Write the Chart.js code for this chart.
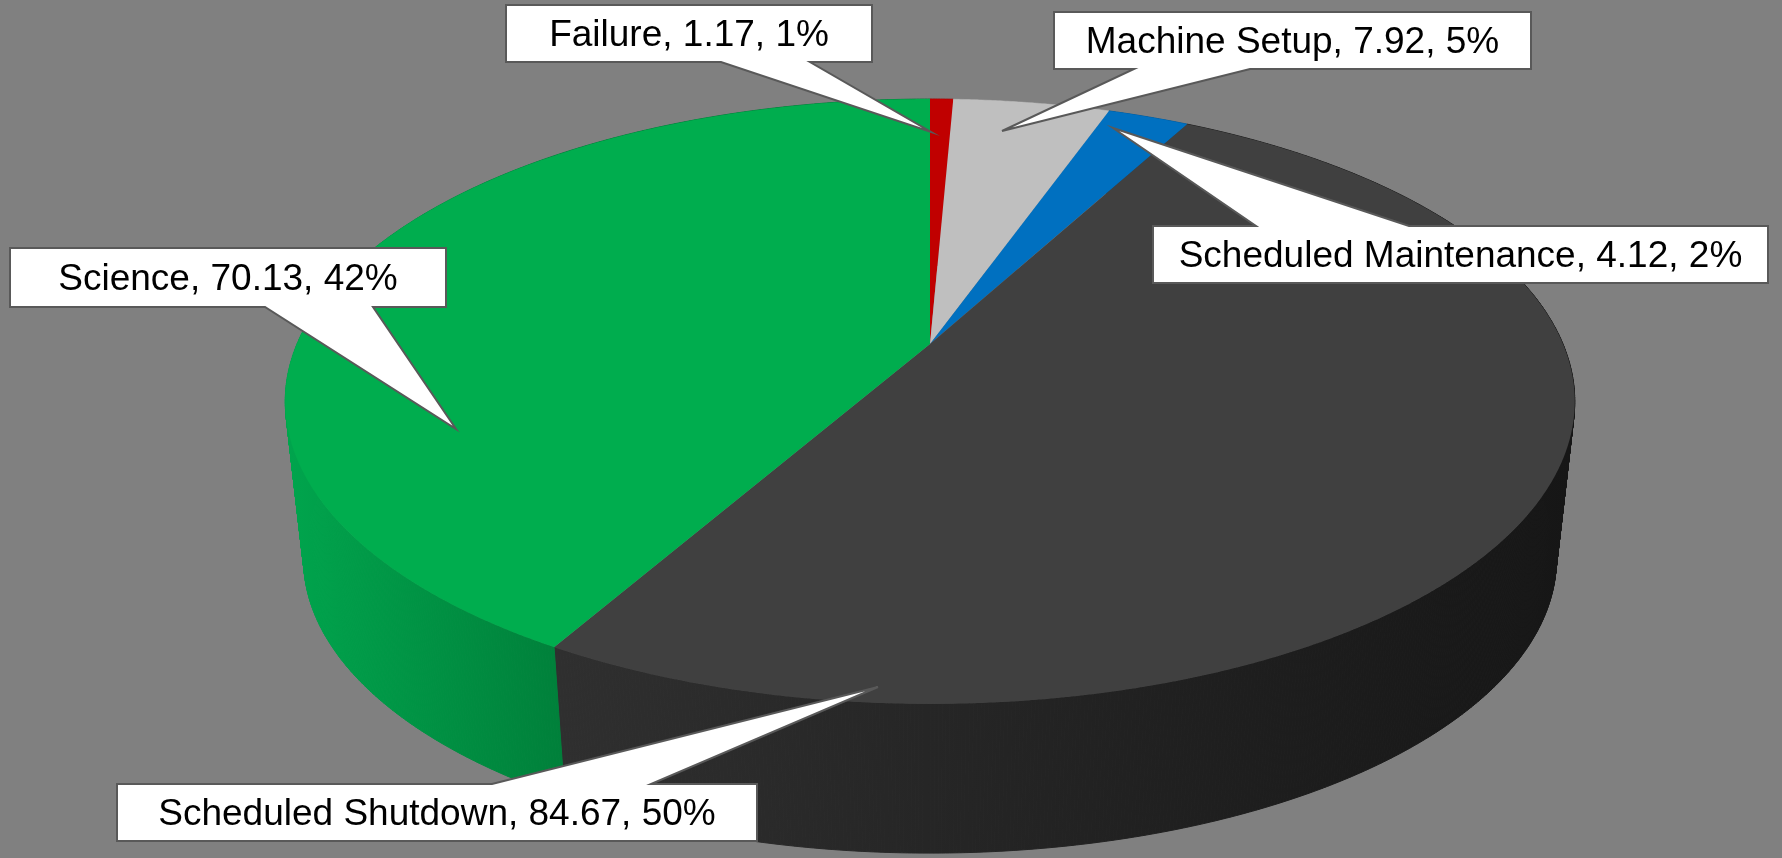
<!DOCTYPE html>
<html>
<head>
<meta charset="utf-8">
<title>Time usage</title>
<style>
    html, body { margin: 0; padding: 0; background: #808080; }
    canvas { display: block; }
</style>
<script src="https://cdn.jsdelivr.net/npm/chart.js@4/dist/chart.umd.js"></script>
</head>
<body>
<canvas id="pie" width="1782" height="858"></canvas>
<script>
// values, clockwise from 12 o'clock
const categories = ['Failure', 'Machine Setup', 'Scheduled Maintenance', 'Scheduled Shutdown', 'Science'];
const hours = [1.17, 7.92, 4.12, 84.67, 70.13];
const percents = ['1%', '5%', '2%', '50%', '42%'];

const topColors = ['#C00000', '#BFBFBF', '#0070C0', '#404040', '#00AD4E'];

// side wall shading, left to right over the visible x range
const wallShades = [
    { from: 900, to: 960, colors: ['#A00000', '#A00000'] },
    { from: 900, to: 1100, colors: ['#9F9F9F', '#9F9F9F'] },
    { from: 1100, to: 1200, colors: ['#005C9E', '#005C9E'] },
    { from: 563, to: 1574, colors: ['#2F2F2F', '#161616'] },
    { from: 284, to: 563, colors: ['#00A54D', '#00803A'] }
];

// callout boxes: [left, top, right, bottom], wedge base x1/x2 and tip
const callouts = [
    { box: [506, 5, 872, 62], edge: 'bottom', base: [721, 810], tip: [931, 132] },
    { box: [1054, 12, 1531, 69], edge: 'bottom', base: [1134, 1250], tip: [1002, 131] },
    { box: [1153, 226, 1768, 283], edge: 'top', base: [1256, 1409], tip: [1113, 128] },
    { box: [117, 784, 757, 841], edge: 'top', base: [492, 651], tip: [878, 687] },
    { box: [10, 248, 446, 307], edge: 'bottom', base: [265, 373], tip: [456, 429] }
];

// perspective of the top disc, the bottom disc is the same one shrunk towards the vanishing point
const view = { cx: 930, cy: 344, rx: 633, ry: 291.5, tilt: 0.19, vanishY: 5940, shrink: 0.0285 };

function projectTop(angle) {
    const u = Math.cos(angle);
    const v = Math.sin(angle);
    const w = 1 - view.tilt * v;
    return [view.cx + view.rx * u / w, view.cy + view.ry * v / w];
}

function projectBottom(angle) {
    const p = projectTop(angle);
    return [p[0] + view.shrink * (view.cx - p[0]), p[1] + view.shrink * (view.vanishY - p[1])];
}

function arcPoints(start, end, project) {
    const steps = Math.max(2, Math.ceil((end - start) / 0.005));
    const points = [];
    for (let i = 0; i <= steps; i++) {
        points.push(project(start + (end - start) * i / steps));
    }
    return points;
}

function fillPoints(ctx, points, fill) {
    ctx.beginPath();
    points.forEach((p, i) => i ? ctx.lineTo(p[0], p[1]) : ctx.moveTo(p[0], p[1]));
    ctx.closePath();
    ctx.fillStyle = fill;
    ctx.fill();
}

// the wall is a strip of quads, a single polygon would miss the tangent parts at the sides
function drawWall(ctx, arc, shade) {
    const upper = arcPoints(arc.startAngle, arc.endAngle, projectTop);
    const lower = arcPoints(arc.startAngle, arc.endAngle, projectBottom);
    const gradient = ctx.createLinearGradient(shade.from, 0, shade.to, 0);
    gradient.addColorStop(0, shade.colors[0]);
    gradient.addColorStop(1, shade.colors[1]);
    ctx.strokeStyle = gradient;
    ctx.lineWidth = 1;
    for (let i = 0; i < upper.length - 1; i++) {
        const quad = [upper[i], upper[i + 1], lower[i + 1], lower[i]];
        fillPoints(ctx, quad, gradient);
        ctx.stroke();
    }
}

function drawCallout(ctx, c, text) {
    const [l, t, r, b] = c.box;
    ctx.beginPath();
    ctx.moveTo(l, t);
    if (c.edge === 'top') {
        ctx.lineTo(c.base[0], t);
        ctx.lineTo(c.tip[0], c.tip[1]);
        ctx.lineTo(c.base[1], t);
    }
    ctx.lineTo(r, t);
    ctx.lineTo(r, b);
    if (c.edge === 'bottom') {
        ctx.lineTo(c.base[1], b);
        ctx.lineTo(c.tip[0], c.tip[1]);
        ctx.lineTo(c.base[0], b);
    }
    ctx.lineTo(l, b);
    ctx.closePath();
    ctx.fillStyle = '#FFFFFF';
    ctx.fill();
    ctx.strokeStyle = '#595959';
    ctx.lineWidth = 2;
    ctx.stroke();

    ctx.fillStyle = '#000000';
    ctx.font = '37px "Liberation Sans", Arial, sans-serif';
    ctx.textAlign = 'center';
    ctx.textBaseline = 'middle';
    ctx.fillText(text, (l + r) / 2, (t + b) / 2 + 2);
}

const pie3d = {
    id: 'pie3d',
    beforeDatasetDraw(chart) {
        const ctx = chart.ctx;
        const arcs = chart.getDatasetMeta(0).data;

        // side wall first, the top face hides whatever is behind
        arcs.forEach((arc, i) => drawWall(ctx, arc, wallShades[i]));

        arcs.forEach((arc, i) => {
            const slice = [[view.cx, view.cy]].concat(arcPoints(arc.startAngle, arc.endAngle, projectTop));
            fillPoints(ctx, slice, topColors[i]);
        });
        return false;
    },
    afterDraw(chart) {
        categories.forEach((name, i) => {
            drawCallout(chart.ctx, callouts[i], `${name}, ${hours[i].toFixed(2)}, ${percents[i]}`);
        });
    }
};

new Chart(document.getElementById('pie').getContext('2d'), {
    type: 'pie',
    data: {
        labels: categories,
        datasets: [{ data: hours, backgroundColor: topColors, borderWidth: 0 }]
    },
    options: {
        responsive: false,
        animation: false,
        events: [],
        plugins: {
            legend: { display: false },
            tooltip: { enabled: false }
        }
    },
    plugins: [pie3d]
});
</script>
</body>
</html>
